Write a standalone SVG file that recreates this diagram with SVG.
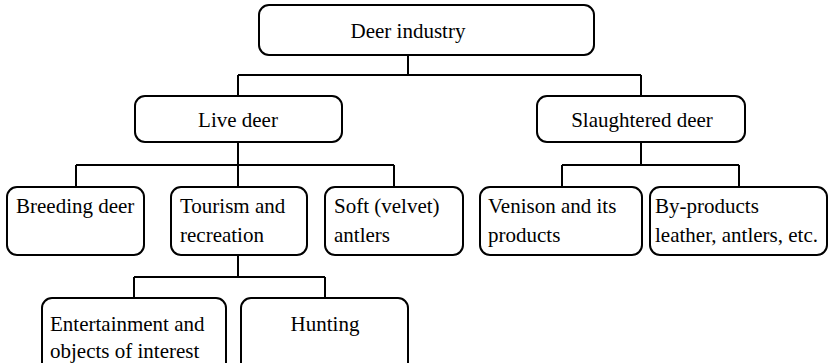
<svg xmlns="http://www.w3.org/2000/svg" width="829" height="363" viewBox="0 0 829 363">
<style>
.box{fill:#fff;stroke:#000;stroke-width:2}
.ln{fill:none;stroke:#000;stroke-width:2}
.t text{font-family:'Liberation Serif','DejaVu Serif',serif;font-size:21px;fill:#000}
.c{text-anchor:middle}
</style>
<rect width="829" height="363" fill="#fff"/>
<g id="connectors">
<path class="ln" d="M408 55V75M238 75H641M238 75V96M641 75V96"/>
<path class="ln" d="M238 142V165M76 165H394M76 165V187M238 165V187M394 165V187"/>
<path class="ln" d="M641 142V165M562 165H739M562 165V187M739 165V187"/>
<path class="ln" d="M238 255V277M134 277H325M134 277V298M325 277V298"/>
</g>
<g class="t" font-family="Liberation Serif, DejaVu Serif, serif">
<g id="n-deer-industry"><rect class="box" x="259" y="5" width="335" height="50" rx="10"/><text class="c" x="408" y="38">Deer industry</text></g>
<g id="n-live-deer"><rect class="box" x="135" y="96" width="207" height="46" rx="10"/><text class="c" x="238" y="127">Live deer</text></g>
<g id="n-slaughtered"><rect class="box" x="537" y="96" width="208" height="46" rx="10"/><text class="c" x="642" y="127">Slaughtered deer</text></g>
<g id="n-breeding"><rect class="box" x="7" y="187" width="137" height="68" rx="10"/><text x="16" y="213">Breeding deer</text></g>
<g id="n-tourism"><rect class="box" x="171" y="187" width="136" height="68" rx="10"/><text x="180" y="213">Tourism and</text><text x="180" y="242">recreation</text></g>
<g id="n-soft"><rect class="box" x="325" y="187" width="138" height="68" rx="10"/><text x="334" y="213">Soft (velvet)</text><text x="334" y="242">antlers</text></g>
<g id="n-venison"><rect class="box" x="480" y="187" width="162" height="68" rx="10"/><text x="488" y="213">Venison and its</text><text x="488" y="242">products</text></g>
<g id="n-byproducts"><rect class="box" x="650" y="187" width="177" height="68" rx="10"/><text x="655" y="213">By-products</text><text x="655" y="242">leather, antlers, etc.</text></g>
<g id="n-entertainment"><rect class="box" x="42" y="298" width="184" height="75" rx="10"/><text x="50" y="331">Entertainment and</text><text x="50" y="358">objects of interest</text></g>
<g id="n-hunting"><rect class="box" x="241" y="298" width="167" height="75" rx="10"/><text class="c" x="325" y="331">Hunting</text></g>
</g>
</svg>
